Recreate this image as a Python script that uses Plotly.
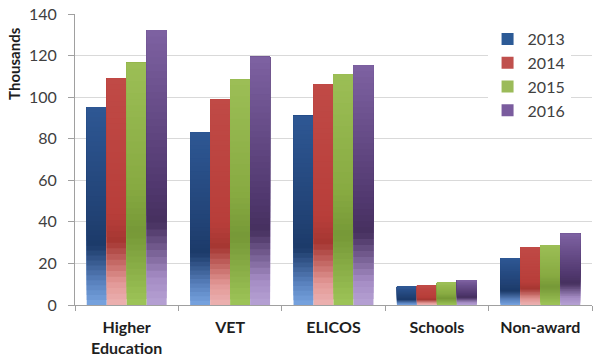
import plotly.graph_objects as go

categories = ["Higher<br>Education", "VET", "ELICOS", "Schools", "Non-award"]
years = ["2013", "2014", "2015", "2016"]
values_2013 = [95.2, 83.1, 91.0, 8.7, 22.5]
values_2014 = [109.0, 98.9, 106.3, 9.3, 27.7]
values_2015 = [116.5, 108.5, 111.0, 10.6, 28.7]
values_2016 = [132.3, 119.4, 115.3, 12.0, 34.3]
series = [values_2013, values_2014, values_2015, values_2016]

# gradient stops (fraction of bar height from bottom, rgb)
stops = {
    "2013": [(0.0, (120, 165, 225)), (0.12, (88, 128, 188)), (0.3, (28, 58, 105)),
             (0.45, (33, 66, 116)), (1.0, (46, 87, 148))],
    "2014": [(0.0, (236, 178, 178)), (0.1, (226, 152, 150)), (0.28, (165, 55, 50)),
             (0.4, (184, 62, 58)), (1.0, (192, 74, 70))],
    "2015": [(0.0, (158, 197, 88)), (0.3, (118, 152, 55)), (0.5, (136, 171, 66)),
             (1.0, (156, 190, 86))],
    "2016": [(0.0, (182, 162, 212)), (0.1, (165, 140, 196)), (0.3, (70, 48, 95)),
             (0.45, (82, 57, 112)), (1.0, (126, 98, 162))],
}
legend_colors = {"2013": "#2c5a96", "2014": "#c0504d", "2015": "#9bbb59", "2016": "#7a5c9e"}


def interp(st, f):
    for (f0, c0), (f1, c1) in zip(st[:-1], st[1:]):
        if f0 <= f <= f1:
            t = (f - f0) / (f1 - f0) if f1 > f0 else 0
            c = [round(a + (b - a) * t) for a, b in zip(c0, c1)]
            return "rgb(%d,%d,%d)" % tuple(c)
    return "rgb(%d,%d,%d)" % st[-1][1]


N = 40
fig = go.Figure()
for yr, vals in zip(years, series):
    # legend entry trace (no visible data)
    fig.add_trace(go.Bar(
        x=categories, y=[None] * len(vals), name=yr, offsetgroup=yr,
        legendgroup=yr, showlegend=True,
        marker=dict(color=legend_colors[yr], line=dict(width=0)),
        hoverinfo="skip"))
    # overlapping gradient slices: each slice runs from its base to the bar top,
    # later slices paint over earlier ones, leaving no seams
    for i in range(N):
        f = (i + 0.5) / N
        fig.add_trace(go.Bar(
            x=categories,
            y=[v * (N - i) / N for v in vals],
            base=[v * i / N for v in vals],
            offsetgroup=yr, legendgroup=yr, showlegend=False, name=yr,
            marker=dict(color=interp(stops[yr], f), line=dict(width=0)),
            hoverinfo="skip"))

fig.update_layout(
    width=600, height=364,
    margin=dict(l=75, r=8, t=14, b=59),
    paper_bgcolor="white", plot_bgcolor="white",
    barmode="group", bargap=0.227, bargroupgap=0,
    font=dict(family="Lato", size=16, color="#404040"),
    showlegend=True,
    legend=dict(x=0.798, y=0.9725, xanchor="left", yanchor="top",
                bgcolor="white", font=dict(size=16, color="#404040"),
                itemwidth=30, traceorder="normal"),
)
fig.update_xaxes(
    automargin=False,
    showline=True, linecolor="#a0a0a0", linewidth=1,
    ticks="outside", tickson="boundaries", ticklen=5, tickcolor="#a0a0a0",
    ticklabelstandoff=8,
    tickfont=dict(family="Lato", size=16, color="#1e1e1e", weight="bold"),
    showgrid=False,
)
fig.update_yaxes(
    automargin=False,
    range=[0, 140], dtick=20, showgrid=True, gridcolor="#d9d9d9", gridwidth=1,
    showline=True, linecolor="#a0a0a0", linewidth=1,
    ticks="outside", ticklen=6, tickcolor="#a0a0a0", zeroline=False,
    ticklabelstandoff=8,
    tickfont=dict(family="Lato", size=16, color="#404040"),
)
fig.add_annotation(
    text="<b>Thousands</b>", textangle=-90, xref="paper", yref="paper",
    x=-0.118, y=0.832, xanchor="center", yanchor="middle", showarrow=False,
    font=dict(family="Lato", size=15, color="#1e1e1e"))

fig.write_html("out.html", config={"displayModeBar": False},
               post_script="document.body.style.margin='0';")
